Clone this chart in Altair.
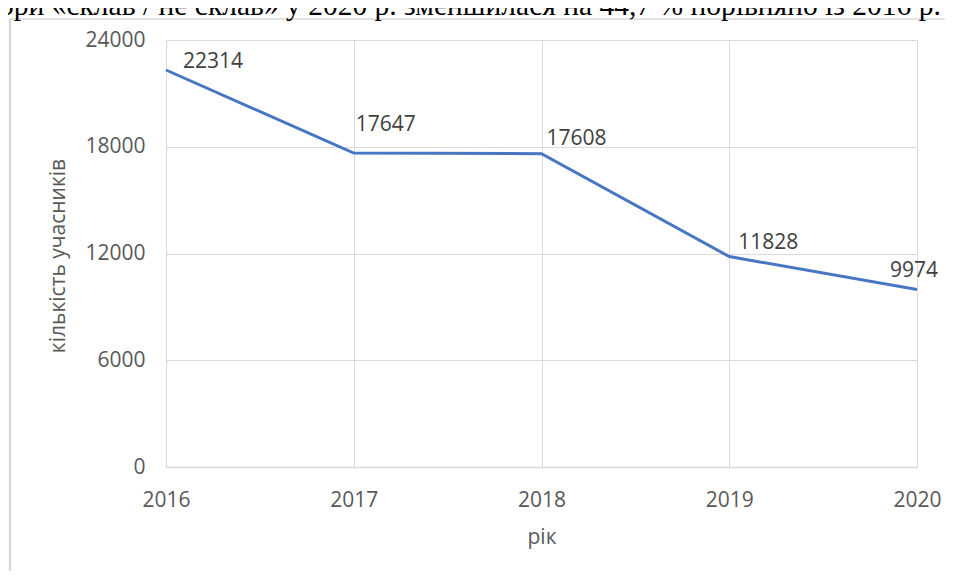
import altair as alt
import pandas as pd

years = [2016, 2017, 2018, 2019, 2020]
counts = [22314, 17647, 17608, 11828, 9974]
y_ticks = [0, 6000, 12000, 18000, 24000]
x_title = "рік"
y_title = "кількість учасників"
caption = "ори «склав / не склав» у 2020 р. зменшилася на 44,7 % порівняно із 2016 р."

df = pd.DataFrame({"year": years, "count": counts})

W, H = 751, 427
FONT = "Open Sans"
GRID = "#d9d9d9"

x_enc = alt.X(
    "year:Q",
    scale=alt.Scale(domain=[years[0], years[-1]], nice=False, zero=False),
    axis=alt.Axis(
        values=years, format="d", title=x_title, grid=True, gridColor=GRID, gridWidth=1,
        domainColor=GRID, domainWidth=1.5, ticks=False, labelFlush=False,
        labelFont=FONT, labelFontSize=21, labelColor="#595959", labelPadding=22,
        titleFont=FONT, titleFontSize=21, titleColor="#595959", titleFontWeight="normal",
        titleBaseline="alphabetic", titleY=76,
    ),
)
y_enc = alt.Y(
    "count:Q",
    scale=alt.Scale(domain=[y_ticks[0], y_ticks[-1]], nice=False),
    axis=alt.Axis(
        values=y_ticks, format="d", title=y_title, grid=True, gridColor=GRID, gridWidth=1,
        domain=False, ticks=False,
        labelFont=FONT, labelFontSize=21, labelColor="#595959", labelPadding=21,
        titleFont=FONT, titleFontSize=21, titleColor="#595959", titleFontWeight="normal",
        titleBaseline="alphabetic", titleAlign="center", titleAngle=-90,
        titleX=-102, titleY=H / 2 + 2,
    ),
)

base = alt.Chart(df)
line = base.mark_line(color="#4777C2", strokeWidth=3).encode(x=x_enc, y=y_enc)

# label offsets (styling only)
offsets = {2016: (17, -8, "left"), 2017: (2, -28, "left"), 2018: (5, -15, "left"),
           2019: (9, -14, "left"), 2020: (-3, -19, "center")}
labels = []
for yr, (dx, dy, al) in offsets.items():
    labels.append(
        base.transform_filter(alt.datum.year == yr)
        .mark_text(font=FONT, fontSize=21, color="#404040", align=al, baseline="middle", dx=dx, dy=dy)
        .encode(x="year:Q", y="count:Q", text=alt.Text("count:Q", format="d"))
    )

deco_df = pd.DataFrame({"t": [caption]})
deco = alt.Chart(deco_df)
cap = deco.mark_text(font="Liberation Serif", fontSize=29.5, color="#000000", align="left",
                     baseline="alphabetic").encode(text="t:N", x=alt.value(-167), y=alt.value(-25))
frame_left = deco.mark_rule(color=GRID, strokeWidth=2.5).encode(
    x=alt.value(-156), y=alt.value(-21), y2=alt.value(540))
frame_top = deco.mark_rule(color=GRID, strokeWidth=1.5).encode(
    x=alt.value(-157), x2=alt.value(W + 40), y=alt.value(-21))

chart = alt.layer(frame_left, frame_top, cap, line, *labels).properties(
    width=W, height=H,
    autosize=alt.AutoSizeParams(type="none"),
    padding={"left": 158, "top": 32, "right": 28, "bottom": 104},
).configure_view(stroke=None).configure_axis(labelOverlap=False)

chart.save("out.html", embed_options={"renderer": "svg", "actions": False})
